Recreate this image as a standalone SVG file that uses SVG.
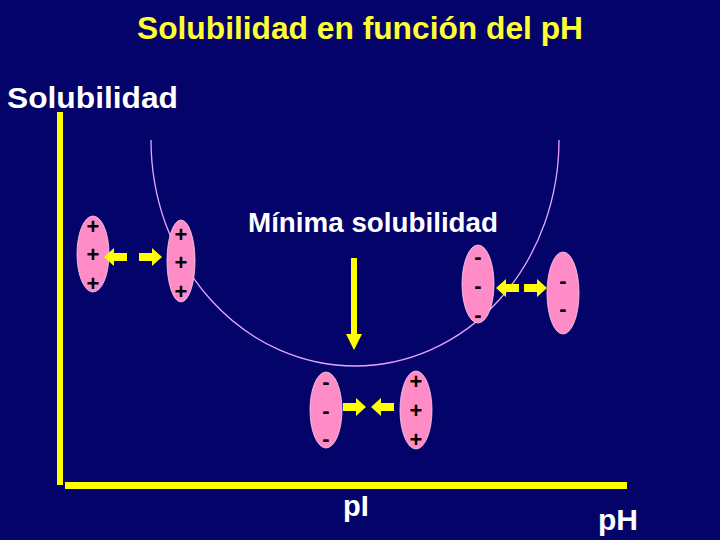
<svg xmlns="http://www.w3.org/2000/svg" width="720" height="540" viewBox="0 0 720 540">
<defs>
<style>
.t{font-family:"Liberation Sans",Arial,sans-serif;font-weight:bold;}
.ion{fill:#ff8cc6;stroke:#ffd0e8;stroke-width:0.8;}
.sg{font-family:"Liberation Sans",Arial,sans-serif;font-weight:bold;font-size:22px;fill:#000;text-anchor:middle;}
.ar{fill:#ffff00;}
</style>
<polygon id="al" points="0,0 10,-9 10,-4 23,-4 23,4 10,4 10,9"/>
<polygon id="arr" points="0,0 -10,-9 -10,-4 -23,-4 -23,4 -10,4 -10,9"/>
</defs>
<rect width="720" height="540" fill="#03036a"/>
<text class="t" x="360" y="39" font-size="31" fill="#ffff33" text-anchor="middle" textLength="446" lengthAdjust="spacingAndGlyphs">Solubilidad en función del pH</text>
<text class="t" x="7" y="108" font-size="29" fill="#ffffff" textLength="171" lengthAdjust="spacingAndGlyphs">Solubilidad</text>
<g id="axes" fill="#ffff00">
<rect x="57" y="112" width="6" height="373"/>
<rect x="65" y="482" width="562" height="7"/>
</g>
<path id="curve" d="M151,140 A204,226 0 0 0 559,140" fill="none" stroke="#e9a6ff" stroke-width="1.3"/>
<text class="t" x="373" y="232" font-size="27" fill="#ffffff" text-anchor="middle" textLength="250" lengthAdjust="spacingAndGlyphs">Mínima solubilidad</text>
<g id="ion1"><ellipse class="ion" cx="93" cy="254" rx="16" ry="38"/>
<text class="sg" x="93" y="234">+</text><text class="sg" x="93" y="262">+</text><text class="sg" x="93" y="291">+</text></g>
<g id="ion2"><ellipse class="ion" cx="181" cy="261" rx="14" ry="41"/>
<text class="sg" x="181" y="242">+</text><text class="sg" x="181" y="270">+</text><text class="sg" x="181" y="299">+</text></g>
<g id="ion3"><ellipse class="ion" cx="478" cy="284" rx="16" ry="39"/>
<text class="sg" x="478" y="264">-</text><text class="sg" x="478" y="293">-</text><text class="sg" x="478" y="322">-</text></g>
<g id="ion4"><ellipse class="ion" cx="563" cy="293" rx="16" ry="41"/>
<text class="sg" x="563" y="288">-</text><text class="sg" x="563" y="316">-</text></g>
<g id="ion5"><ellipse class="ion" cx="326" cy="410" rx="16" ry="38"/>
<text class="sg" x="326" y="389">-</text><text class="sg" x="326" y="418">-</text><text class="sg" x="326" y="446">-</text></g>
<g id="ion6"><ellipse class="ion" cx="416" cy="410" rx="16" ry="39"/>
<text class="sg" x="416" y="389">+</text><text class="sg" x="416" y="418">+</text><text class="sg" x="416" y="447">+</text></g>
<g id="connectors" class="ar">
<use href="#al" x="104" y="257"/>
<use href="#arr" x="162" y="257"/>
<use href="#al" x="496" y="288"/>
<use href="#arr" x="547" y="288"/>
<use href="#arr" x="366" y="407"/>
<use href="#al" x="371" y="407"/>
<polygon points="351,258 357,258 357,334 362,334 354,350 346,334 351,334"/>
</g>
<text class="t" x="343" y="516" font-size="29" fill="#ffffff">pI</text>
<text class="t" x="598" y="530" font-size="30" fill="#ffffff">pH</text>
</svg>
